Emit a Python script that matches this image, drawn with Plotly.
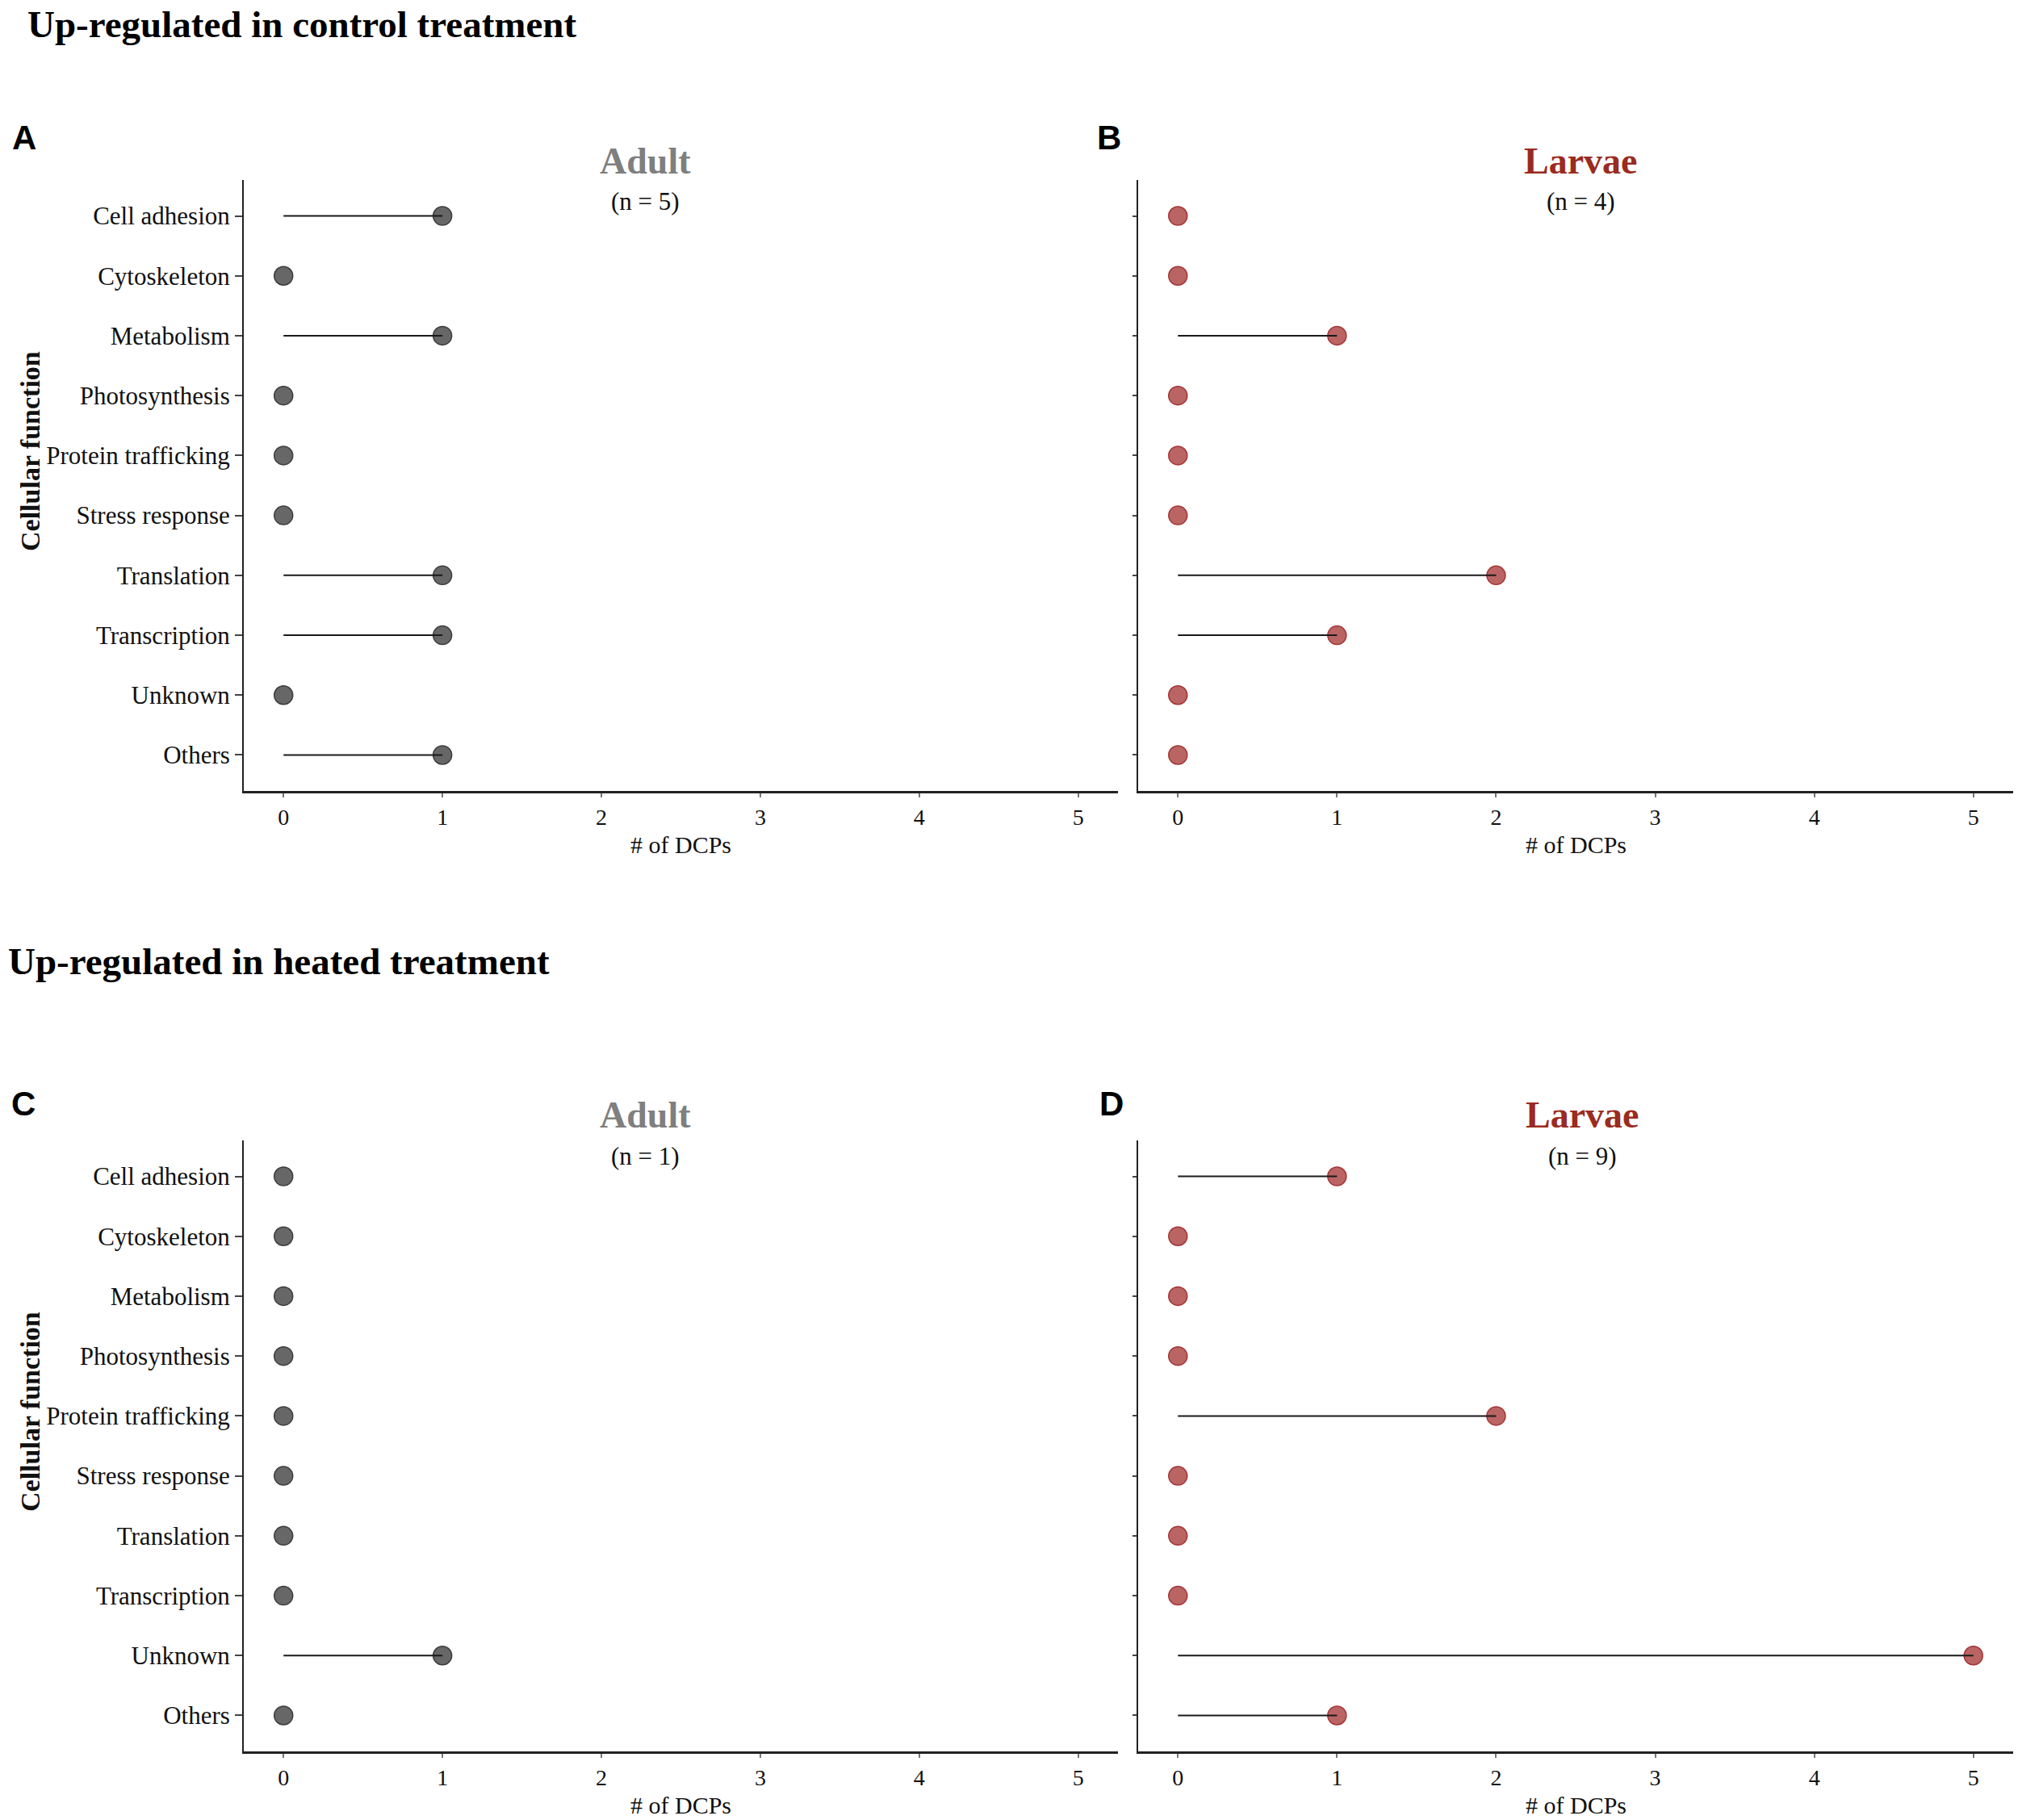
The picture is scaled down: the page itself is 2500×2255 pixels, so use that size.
import plotly.graph_objects as go

# ---------------- data ----------------
categories = ["Cell adhesion", "Cytoskeleton", "Metabolism", "Photosynthesis",
              "Protein trafficking", "Stress response", "Translation",
              "Transcription", "Unknown", "Others"]

adult_control = [1, 0, 1, 0, 0, 0, 1, 1, 0, 1]
larvae_control = [0, 0, 1, 0, 0, 0, 2, 1, 0, 0]
adult_heated = [0, 0, 0, 0, 0, 0, 0, 0, 1, 0]
larvae_heated = [1, 0, 0, 0, 2, 0, 0, 0, 5, 1]

x_ticks = [0, 1, 2, 3, 4, 5]
panel_letters = ["A", "B", "C", "D"]
panel_groups = ["Adult", "Larvae", "Adult", "Larvae"]
panel_n = ["(n = 5)", "(n = 4)", "(n = 1)", "(n = 9)"]
section_titles = ["Up-regulated in control treatment", "Up-regulated in heated treatment"]
x_title = "# of DCPs"
y_title = "Cellular function"

# ---------------- layout helpers ----------------
W, H = 2500, 2255
def fx(px):
    return px / W
def fy(py):
    return 1 - py / H

SERIF = "Liberation Serif, Times New Roman, serif"
SANS = "Liberation Sans, Arial, sans-serif"

group_style = {
    "Adult": dict(fill="rgba(90,90,90,0.92)", edge="#3c3c3c", title="#7f7f7f"),
    "Larvae": dict(fill="rgba(178,78,78,0.88)", edge="#a33434", title="#9b2b20"),
}

values = [adult_control, larvae_control, adult_heated, larvae_heated]
xdoms = [(302, 1385), (1410, 2494), (302, 1385), (1410, 2494)]
ydoms = [(223, 980), (223, 980), (1413, 2170), (1413, 2170)]
row_off = [0, 0, 1190, 1190]
title_off = [0, 0, 1182, 1182]
title_cx = [799, 1958, 799, 1960]

fig = go.Figure()
annotations = []
layout_axes = {}

for i in range(4):
    k = "" if i == 0 else str(i + 1)
    xa, ya = "x" + k, "y" + k
    st = group_style[panel_groups[i]]
    vals = values[i]

    # markers first
    fig.add_trace(go.Scatter(
        x=vals, y=categories, mode="markers", xaxis=xa, yaxis=ya,
        marker=dict(size=23, color=st["fill"], line=dict(color=st["edge"], width=1.5)),
        showlegend=False, hoverinfo="x+y"))
    # segments on top
    lx, ly = [], []
    for c, v in zip(categories, vals):
        if v > 0:
            lx += [0, v, None]
            ly += [c, c, None]
    if lx:
        fig.add_trace(go.Scatter(
            x=lx, y=ly, mode="lines", xaxis=xa, yaxis=ya,
            line=dict(color="#1a1a1a", width=2),
            showlegend=False, hoverinfo="skip"))

    x0, x1 = xdoms[i]
    y0, y1 = ydoms[i]
    left = (i % 2 == 0)
    layout_axes["xaxis" + k] = dict(
        domain=[fx(x0), fx(x1)], anchor=ya, range=[-0.25, 5.25],
        tickmode="array", tickvals=x_ticks, ticktext=[str(t) for t in x_ticks],
        showgrid=False, zeroline=False, showline=True, linecolor="#222222", linewidth=3,
        ticks="outside", ticklen=5, tickwidth=1.5, tickcolor="#777777",
        tickfont=dict(family=SERIF, size=28, color="#111111"))
    layout_axes["yaxis" + k] = dict(
        domain=[fy(y1), fy(y0)], anchor=xa, type="category",
        categoryorder="array", categoryarray=categories, range=[9.6, -0.6],
        showgrid=False, zeroline=False, showline=True, linecolor="#222222", linewidth=2,
        ticks="outside", ticklen=9 if left else 5, tickwidth=1.5, tickcolor="#444444",
        showticklabels=left,
        tickfont=dict(family=SERIF, size=31, color="#111111"))

    cx = (x0 + x1) / 2
    off = row_off[i]
    toff = title_off[i]
    annotations.append(dict(text="<b>" + panel_groups[i] + "</b>", x=fx(title_cx[i]), y=fy(199 + toff),
                            xref="paper", yref="paper", xanchor="center", yanchor="middle",
                            showarrow=False, font=dict(family=SERIF, size=46, color=st["title"])))
    annotations.append(dict(text=panel_n[i], x=fx(title_cx[i]), y=fy(250 + toff),
                            xref="paper", yref="paper", xanchor="center", yanchor="middle",
                            showarrow=False, font=dict(family=SERIF, size=31, color="#111111")))
    annotations.append(dict(text=x_title, x=fx(cx), y=fy(1046 + off),
                            xref="paper", yref="paper", xanchor="center", yanchor="middle",
                            showarrow=False, font=dict(family=SERIF, size=30, color="#111111")))
    if left:
        annotations.append(dict(text="<b>" + y_title + "</b>", x=fx(37), y=fy(559 + off),
                                xref="paper", yref="paper", xanchor="center", yanchor="middle",
                                textangle=-90, showarrow=False,
                                font=dict(family=SERIF, size=34, color="#111111")))

letter_pos = [(13, 170), (1357, 170), (12, 1367), (1360, 1367)]
for (lxp, lyp), t in zip(letter_pos, panel_letters):
    annotations.append(dict(text="<b>" + t + "</b>", x=fx(lxp), y=fy(lyp),
                            xref="paper", yref="paper", xanchor="left", yanchor="middle",
                            showarrow=False, font=dict(family=SANS, size=42, color="#000000")))

title_pos = [(32, 2), (8, 1191)]
title_anchor = ["top", "middle"]
for (tx, ty), t, ya_ in zip(title_pos, section_titles, title_anchor):
    annotations.append(dict(text="<b>" + t + "</b>", x=fx(tx), y=fy(ty),
                            xref="paper", yref="paper", xanchor="left", yanchor=ya_,
                            showarrow=False, font=dict(family=SERIF, size=47, color="#000000")))

fig.update_layout(
    width=W, height=H, margin=dict(l=0, r=0, t=0, b=0),
    paper_bgcolor="white", plot_bgcolor="white",
    annotations=annotations, showlegend=False, **layout_axes)

fig.write_html("out.html", config={"displayModeBar": False},
               post_script="document.body.style.margin='0px';document.body.style.padding='0px';")
